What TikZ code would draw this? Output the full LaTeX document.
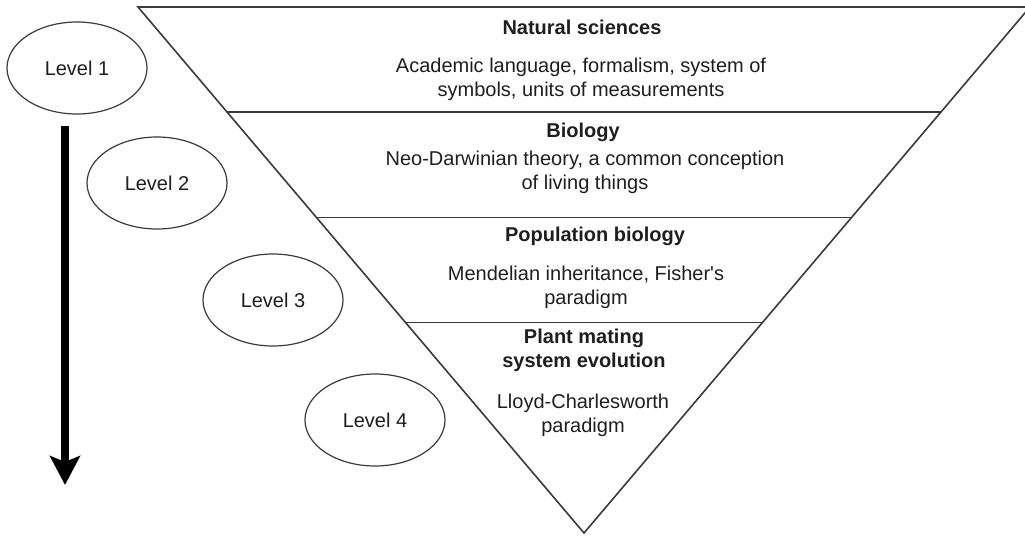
\documentclass[tikz,border=0pt]{standalone}
\usepackage{fontspec}
\setmainfont{Liberation Sans}
\usetikzlibrary{arrows.meta,shapes.geometric,calc}
\definecolor{lineGray}{HTML}{3A3A3A}
\definecolor{textDark}{HTML}{1E1E1E}

\begin{document}
\begin{tikzpicture}[x=0.5pt,y=-0.5pt,
  level/.style={ellipse,draw=lineGray,line width=0.6pt,minimum width=70pt,minimum height=46pt,inner sep=0pt,text=textDark,font=\fontsize{10}{12}\selectfont},
  title/.style={align=center,inner sep=0pt,text=textDark,font=\fontsize{10}{12}\selectfont\bfseries},
  desc/.style={align=center,inner sep=0pt,text=textDark,font=\fontsize{10}{12}\selectfont},
  edge/.style={draw=lineGray,line width=0.8pt,line join=miter},
  arr/.style={-{Stealth[length=14.5pt,width=15pt,inset=3pt]},line width=4pt,black}
]
\useasboundingbox (0,0) rectangle (1025,537);
\coordinate (tl) at (138,7);
\coordinate (tr) at (1030,7);
\coordinate (apex) at (584,533);
\draw[edge] (tl) -- (tr) -- (apex) -- cycle;
\draw[edge] ($(tl)!0.2!(apex)$) -- ($(tr)!0.2!(apex)$);
\draw[edge] ($(tl)!0.4!(apex)$) -- ($(tr)!0.4!(apex)$);
\draw[edge] ($(tl)!0.6!(apex)$) -- ($(tr)!0.6!(apex)$);
\node[title] (natsci) at (582,27) {Natural sciences};
\node[desc] (natscidesc) at (581,79) {Academic language, formalism, system of\\symbols, units of measurements};
\node[title] (bio) at (583,132) {Biology};
\node[desc] (biodesc) at (585,172) {Neo-Darwinian theory, a common conception\\of living things};
\node[title] (popbio) at (595,236) {Population biology};
\node[desc] (popbiodesc) at (586,287) {Mendelian inheritance, Fisher\textquotesingle s\\paradigm};
\node[title] (plant) at (584,350) {Plant mating\\system evolution};
\node[desc] (plantdesc) at (583,415) {Lloyd-Charlesworth\\paradigm};
\node[level] (lvl1) at (77,68) {Level 1};
\node[level] (lvl2) at (157,183) {Level 2};
\node[level] (lvl3) at (273,300) {Level 3};
\node[level] (lvl4) at (375,420) {Level 4};
\coordinate (arrtop) at (65,126);
\coordinate (arrend) at (65,485);
\draw[arr] (arrtop) -- (arrend);
\end{tikzpicture}
\end{document}
